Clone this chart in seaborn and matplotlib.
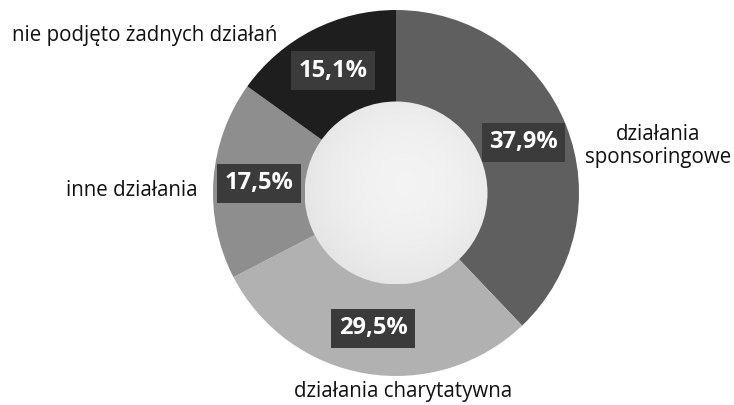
import matplotlib
matplotlib.use("Agg")
import matplotlib.pyplot as plt
import numpy as np
import seaborn as sns
from matplotlib.patches import Circle

# dane (udział w %)
categories = ["działania\nsponsoringowe", "działania charytatywna", "inne działania",
              "nie podjęto żadnych działań"]
shares = [37.9, 29.5, 17.5, 15.1]
colors = ["#5f5f5f", "#b1b1b1", "#8e8e8e", "#1e1e1e"]

sns.set_theme(style="white")
plt.rcParams["font.family"] = ["Open Sans", "DejaVu Sans"]

fig = plt.figure(figsize=(7.34, 4.05), dpi=100)
ax = fig.add_axes([0, 0, 1, 1])

cx, cy, r = 396, 405 - 193, 183

wedges, _, pct_texts = ax.pie(
    shares,
    colors=colors,
    startangle=90,
    counterclock=False,
    center=(cx, cy),
    radius=r,
    autopct=lambda p: f"{p:.1f}%".replace(".", ","),
    pctdistance=0.75,
    wedgeprops=dict(linewidth=0),
    textprops=dict(color="white", fontsize=17, fontweight="bold"),
    frame=True,
)

for t in pct_texts:
    t.set_bbox(dict(boxstyle="square,pad=0.32", fc="#3b3b3b", ec="none"))
    t.set_zorder(5)

# środek pierścienia z delikatnym gradientem
ri = r * 0.5
yy, xx = np.mgrid[-1:1:200j, -1:1:200j]
dist = np.sqrt((xx - 0.1) ** 2 + (yy + 0.1) ** 2)
img = ax.imshow(0.95 - 0.06 * np.clip(dist / 1.2, 0, 1) ** 2, cmap="gray", vmin=0, vmax=1,
                extent=(cx - ri, cx + ri, cy - ri, cy + ri), origin="upper", zorder=3)
img.set_clip_path(Circle((cx, cy), ri, transform=ax.transData))
ax.set_xlim(0, 734)
ax.set_ylim(0, 405)
ax.set_aspect("equal")
ax.axis("off")

# etykiety kategorii
label_pos = [(658, 405 - 146, "center"), (403, 405 - 392, "center"),
             (198, 405 - 190, "right"), (12, 405 - 35, "left")]
for name, (x, y, ha) in zip(categories, label_pos):
    ax.text(x, y, name, ha=ha, va="center", fontsize=14.8, color="#111111",
            linespacing=1.12)

fig.savefig("out.png", dpi=100, facecolor="white")
